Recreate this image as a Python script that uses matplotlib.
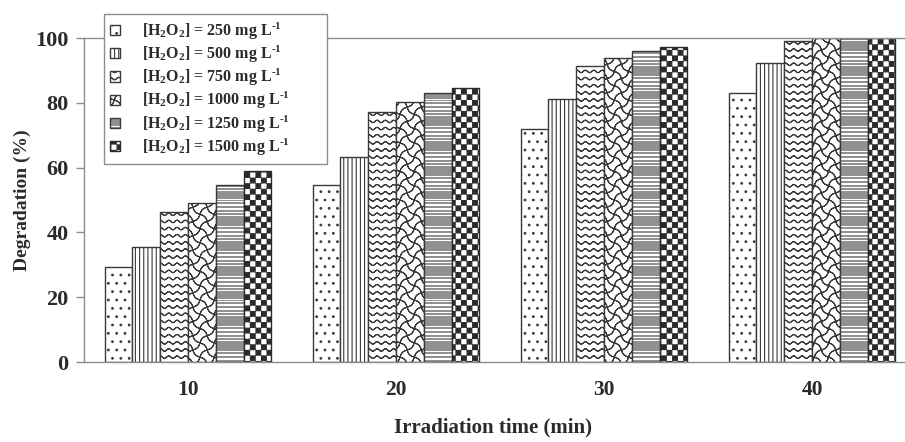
import numpy as np
import matplotlib
matplotlib.use('Agg')
import matplotlib.pyplot as plt
from matplotlib.path import Path
from matplotlib.backend_bases import GraphicsContextBase

# ---------------- data ----------------
times = ['10', '20', '30', '40']
doses = ['250', '500', '750', '1000', '1250', '1500']
deg_250 = [29.2, 54.6, 71.9, 82.9]
deg_500 = [35.6, 63.2, 81.2, 92.2]
deg_750 = [46.2, 77.2, 91.5, 99.0]
deg_1000 = [49.2, 80.2, 93.7, 99.9]
deg_1250 = [54.6, 83.1, 96.1, 100.0]
deg_1500 = [59.0, 84.5, 97.3, 100.0]
series = [deg_250, deg_500, deg_750, deg_1000, deg_1250, deg_1500]

# ---------------- custom hatch patterns ----------------
M, L, C = Path.MOVETO, Path.LINETO, Path.CLOSEPOLY


def _zero_poly(pts):
    pts = np.asarray(pts, float)
    v = np.concatenate([pts, pts[::-1]])
    c = np.full(len(v), L, dtype=Path.code_type)
    c[0] = M
    return v, c


def _join(parts):
    vs = [p[0] for p in parts]
    cs = [p[1] for p in parts]
    return Path(np.concatenate(vs), np.concatenate(cs))


def wave_h(rows=14, waves=12, amp=0.012):
    t = np.linspace(-0.02, 1.02, 500)
    parts = []
    for r in range(rows + 1):
        y0 = r / rows
        parts.append(_zero_poly(np.column_stack([t, y0 + amp * np.sin(2 * np.pi * waves * t)])))
    return _join(parts)


def wave_diag(n=7, waves=7, amp=0.016):
    t = np.linspace(-0.02, 1.02, 400)
    s = amp * np.sin(2 * np.pi * waves * t) / np.sqrt(2)
    parts = []
    for k in range(-n, n + 1):
        c = k / n
        parts.append(_zero_poly(np.column_stack([t - s, t + c + s])))
    for k in range(0, 2 * n + 1):
        c = k / n
        parts.append(_zero_poly(np.column_stack([t + s, -t + c + s])))
    return _join(parts)


def checker(n=18, shrink=0.004):
    sz = 1.0 / n
    vs, cs = [], []
    for i in range(n):
        for j in range(n):
            if (i + j) % 2 == 0:
                x0, y0 = i * sz + shrink, j * sz + shrink
                x1, y1 = (i + 1) * sz - shrink, (j + 1) * sz - shrink
                vs.append([(x0, y0), (x1, y0), (x1, y1), (x0, y1), (x0, y0)])
                cs.append([M, L, L, L, C])
    return Path(np.concatenate(vs), np.array(sum(cs, []), dtype=Path.code_type))


def hstripes(motif=(2, 2, 2, 2, 3, 3, 4, 4, 3)):
    steps = list(motif) * 4
    ys = np.cumsum(steps) / 100.0
    parts = []
    for y in ys:
        parts.append((np.array([(-0.02, y), (1.02, y)]), np.array([M, L], dtype=Path.code_type)))
    return _join(parts)


CUSTOM = {'*o': wave_h(), 'O*': wave_diag(), 'oO*': checker(), '*-': hstripes()}
_orig_ghp = GraphicsContextBase.get_hatch_path


def _ghp(self, density=6.0):
    h = self.get_hatch()
    if h in CUSTOM:
        return CUSTOM[h]
    return _orig_ghp(self, density)


GraphicsContextBase.get_hatch_path = _ghp

# ---------------- style ----------------
plt.rcParams['font.family'] = ['Liberation Serif', 'DejaVu Serif']
plt.rcParams['font.weight'] = 'bold'
plt.rcParams['axes.labelweight'] = 'bold'
plt.rcParams['mathtext.default'] = 'regular'
plt.rcParams['hatch.linewidth'] = 0.8
txt = '#2b2b2b'
grey = '#8c8c8c'

hatches = ['..', '||||', '*o', 'O*', '*-', 'oO*']
edgecols = ['#3a3a3a', '#3a3a3a', '#3a3a3a', '#3a3a3a', '#3a3a3a', '#2a2a2a']

fig = plt.figure(figsize=(9.05, 4.42), dpi=100)
ax = fig.add_axes([84 / 905, 1 - 362 / 442, (905 - 84) / 905, 324 / 442])

x = np.arange(len(times))
w = 27.8 / 208
for i, vals in enumerate(series):
    ax.bar(x + (i - 2.5) * w, vals, w, facecolor='white', edgecolor=edgecols[i],
           hatch=hatches[i], linewidth=1.0,
           label='[H$_2$O$_2$] = %s mg L$^{\u20101}$' % doses[i])

ax.set_xlim(-0.5, -0.5 + (905 - 84) / 208)
ax.set_ylim(0, 100)
ax.set_xticks(x)
ax.set_xticklabels(times)
ax.set_yticks(range(0, 101, 20))

for sp in ['top', 'left', 'bottom']:
    ax.spines[sp].set_color(grey)
    ax.spines[sp].set_linewidth(1.0)
ax.spines['right'].set_visible(False)

ax.tick_params(axis='y', length=6, width=1, color=grey, labelsize=16, pad=5, labelcolor=txt)
ax.tick_params(axis='x', length=0, labelsize=15.5, pad=13, labelcolor=txt)

ax.set_ylabel('Degradation (%)', fontsize=14, color=txt)
ax.yaxis.set_label_coords(-0.064, 0.5)
ax.set_xlabel('Irradiation time (min)', fontsize=15, color=txt)
ax.xaxis.set_label_coords(0.498, -0.172)

leg = ax.legend(loc='upper left',
                bbox_to_anchor=(104 / 905, 1 - 163 / 442, (327 - 104) / 905, (163 - 14) / 442),
                bbox_transform=fig.transFigure, mode='expand', borderaxespad=0, fontsize=11.5,
                handlelength=0.6, handleheight=0.6, handletextpad=1.4,
                labelspacing=0.12, borderpad=0.4, fancybox=False, framealpha=1,
                edgecolor=grey)
leg.get_frame().set_linewidth(1.0)
for t in leg.get_texts():
    t.set_color(txt)

fig.savefig('out.png', dpi=100)
